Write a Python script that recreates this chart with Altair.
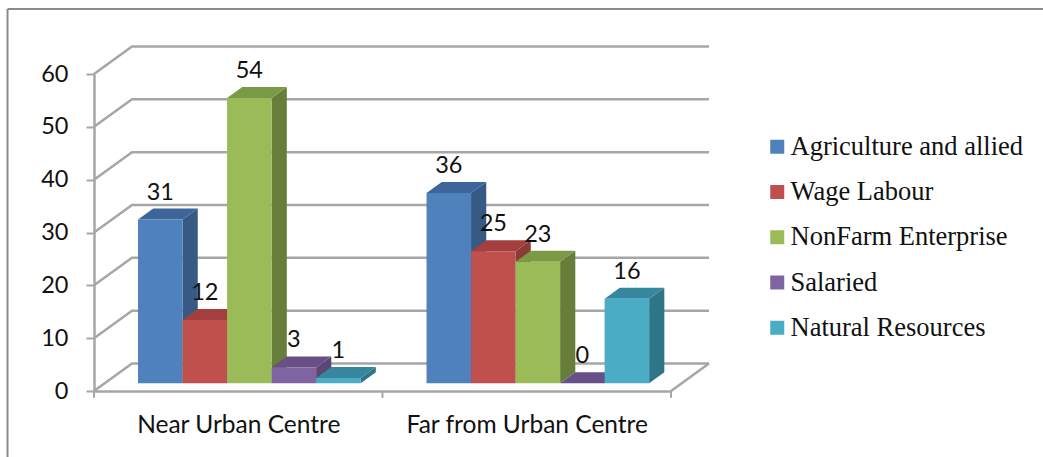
import altair as alt
import pandas as pd

# Survey shares by livelihood source and location
categories = ["Near Urban Centre", "Far from Urban Centre"]
series = ["Agriculture and allied", "Wage Labour", "NonFarm Enterprise", "Salaried", "Natural Resources"]
near_values = [31, 12, 54, 3, 1]
far_values = [36, 25, 23, 0, 16]
y_ticks = [0, 10, 20, 30, 40, 50, 60]

front_colors = ["#4F81BD", "#C0504D", "#9BBB59", "#8064A2", "#4BACC6"]
side_colors = ["#375A85", "#8A3A37", "#677D3A", "#5A4673", "#2F7588"]
top_colors = ["#3D659A", "#A33F3C", "#7A9A45", "#674F87", "#36879E"]

GRAY = "#A6A6A6"
FRAME = "#8C8C8C"
FONT = "Lato"

# Oblique projection of the depth axis onto the plot's x and y units
DEPTH_X = 0.1317
DEPTH_Y = 5.2
BAR_WIDTH = 1 / 6.48
GROUP_START = 0.75 * BAR_WIDTH
T_FRONT, T_BACK = 0.28, 0.68


def project(x, value, t):
    return x + t * DEPTH_X, value + t * DEPTH_Y


front_rows, side_rows, top_rows, label_rows = [], [], [], []
for c, values in enumerate([near_values, far_values]):
    for s, v in enumerate(values):
        bar = f"{c}-{s}"
        x0 = c + GROUP_START + s * BAR_WIDTH
        x1 = x0 + BAR_WIDTH
        fx0, base = project(x0, 0, T_FRONT)
        fx1, ftop = project(x1, v, T_FRONT)
        front_rows.append({"x": fx0, "x2": fx1, "y": base, "y2": ftop, "series": series[s]})

        bx1, bbase = project(x1, 0, T_BACK)
        _, btop = project(x1, v, T_BACK)
        side_rows += [
            {"bar": bar, "x": fx1, "y": base, "y2": ftop, "fill": side_colors[s]},
            {"bar": bar, "x": bx1, "y": bbase, "y2": btop, "fill": side_colors[s]},
        ]

        bx0 = project(x0, 0, T_BACK)[0]
        top_rows += [
            {"bar": bar, "x": fx0, "y": ftop, "y2": ftop, "fill": top_colors[s]},
            {"bar": bar, "x": bx0, "y": ftop, "y2": btop, "fill": top_colors[s]},
            {"bar": bar, "x": fx1, "y": ftop, "y2": btop, "fill": top_colors[s]},
            {"bar": bar, "x": bx1, "y": btop, "y2": btop, "fill": top_colors[s]},
        ]
        label_rows.append({"x": (fx0 + fx1) / 2, "y": btop, "label": str(v)})

# Back-wall gridlines, each running from the front edge to the wall and across
grid_rows = []
for v in y_ticks:
    grid_rows += [
        {"tick": v, "order": 0, "x": 0, "y": v},
        {"tick": v, "order": 1, "x": DEPTH_X, "y": v + DEPTH_Y},
        {"tick": v, "order": 2, "x": 2 + DEPTH_X, "y": v + DEPTH_Y},
    ]
floor_edge = [{"x": 2, "y": 0, "order": 0}, {"x": 2 + DEPTH_X, "y": DEPTH_Y, "order": 1}]
x_tick_rows = [{"x": i, "y": 0, "y2": -1.3} for i in range(3)]

x_scale = alt.Scale(domain=[0, 2], nice=False, zero=False)
y_scale = alt.Scale(domain=[0, 60], nice=False, zero=False)

label_expr = f"datum.value < 1 ? '{categories[0]}' : '{categories[1]}'"
x_axis = alt.Axis(
    values=[0.5, 1.5], labelExpr=label_expr, ticks=False, grid=False, title=None,
    domainColor=GRAY, domainWidth=2.5, labelFont=FONT, labelFontSize=24.5,
    labelColor="#111111", labelPadding=22, labelAngle=0, labelOverlap=False,
    labelLimit=400,
)
y_axis = alt.Axis(
    values=y_ticks, grid=False, title=None, domainColor=GRAY, domainWidth=2.5,
    tickColor=GRAY, tickWidth=2, tickSize=8, labelFont=FONT, labelFontSize=23.5,
    labelColor="#111111", labelPadding=18,
)


def xq():
    return alt.X("x:Q", scale=x_scale, axis=x_axis)


def yq():
    return alt.Y("y:Q", scale=y_scale, axis=y_axis, stack=None)


grid = alt.Chart(pd.DataFrame(grid_rows)).mark_line(color=GRAY, strokeWidth=2.5).encode(
    x=xq(), y=yq(), detail="tick:N", order="order:Q"
)
edge = alt.Chart(pd.DataFrame(floor_edge)).mark_line(color=GRAY, strokeWidth=2.5).encode(
    x=xq(), y=yq(), order="order:Q"
)
x_ticks = alt.Chart(pd.DataFrame(x_tick_rows)).mark_rule(color=GRAY, strokeWidth=2).encode(
    x=xq(), y=yq(), y2="y2:Q"
)

sides = alt.Chart(pd.DataFrame(side_rows)).mark_area(opacity=1).encode(
    x=xq(), y=yq(), y2="y2:Q", detail="bar:N", fill=alt.Fill("fill:N", scale=None)
)
tops = alt.Chart(pd.DataFrame(top_rows)).mark_area(opacity=1).encode(
    x=xq(), y=yq(), y2="y2:Q", detail="bar:N", fill=alt.Fill("fill:N", scale=None)
)
fronts = alt.Chart(pd.DataFrame(front_rows)).mark_rect().encode(
    x=xq(), x2="x2:Q", y=yq(), y2="y2:Q",
    color=alt.Color(
        "series:N",
        scale=alt.Scale(domain=series, range=front_colors),
        legend=alt.Legend(
            title=None, orient="none", legendX=670, legendY=59.5, symbolType="square",
            symbolSize=196, symbolStrokeWidth=0, labelFont="Liberation Serif",
            labelFontSize=26.5, labelColor="#111111", labelOffset=0, labelLimit=300,
            rowPadding=18.25,
        ),
    ),
)
labels = alt.Chart(pd.DataFrame(label_rows)).mark_text(
    font=FONT, fontSize=23.5, color="#111111", dy=-16, baseline="middle"
).encode(x=xq(), y=yq(), text="label:N")

frame_left = alt.Chart(pd.DataFrame({"i": [0]})).mark_rule(color=FRAME, strokeWidth=2).encode(
    x=alt.value(-86.5), y=alt.value(-65), y2=alt.value(383)
)
frame_top = alt.Chart(pd.DataFrame({"i": [0]})).mark_rule(color=FRAME, strokeWidth=2).encode(
    x=alt.value(-86.5), x2=alt.value(949), y=alt.value(-65)
)

chart = alt.layer(
    grid, edge, x_ticks, sides, tops, fronts, labels, frame_left, frame_top
).properties(
    width=577, height=317, background="white",
    padding={"left": 94, "top": 74, "right": 372, "bottom": 66},
    autosize=alt.AutoSizeParams(type="none"),
).configure_view(stroke=None)

chart.save("out.html", embed_options={"renderer": "svg", "actions": False})
